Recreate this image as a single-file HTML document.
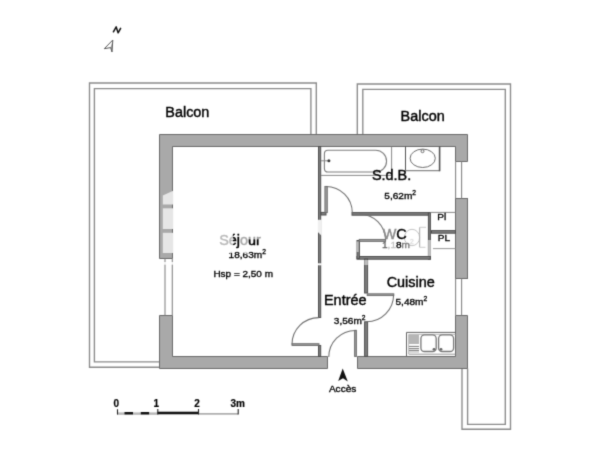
<!DOCTYPE html>
<html><head><meta charset="utf-8">
<style>
html,body{margin:0;padding:0;background:#fff;width:600px;height:450px;overflow:hidden}
svg{display:block;will-change:transform}
text{font-family:"Liberation Sans",sans-serif;fill:#000}
.t14{font-size:14px;stroke:#000;stroke-width:0.4px}
.t10{font-size:9.7px;stroke:#000;stroke-width:0.32px}
.w{fill:#a9a9a9;stroke:#6b6b6b;stroke-width:1}
.ln{fill:none;stroke:#7a7a7a;stroke-width:1}
.ld{fill:none;stroke:#555;stroke-width:1}
.pt{fill:#7e7e7e;stroke:#4f4f4f;stroke-width:1}
.dl rect{fill:#9c9c9c;stroke:#6a6a6a;stroke-width:0.9}
.arc path{fill:none;stroke:#6e6e6e;stroke-width:1.05}
</style></head><body>
<svg width="600" height="450" viewBox="0 0 600 450">
<defs><filter id="bl" x="0" y="0" width="600" height="450" filterUnits="userSpaceOnUse" color-interpolation-filters="sRGB"><feConvolveMatrix order="3" kernelMatrix="0.0192 0.1001 0.0192 0.1001 0.5228 0.1001 0.0192 0.1001 0.0192" edgeMode="duplicate"/></filter></defs>
<g filter="url(#bl)">
<rect x="0" y="0" width="600" height="450" fill="#fff"/>

<!-- left balcony -->
<g fill="none" stroke="#8a8a8a" stroke-width="1.35">
<path d="M159.5 367.2 H89.5 V83 H316.3 V134.5"/>
<path d="M159.5 361.8 H94.4 V88.6 H310.9 V134.5"/>
<!-- right balcony -->
<path d="M357.3 134.5 V84 H510.5 V429.2 H462 V368.5"/>
<path d="M362.8 134.5 V89.4 H505.3 V424.4 H467.6 V368.5"/>
</g>

<!-- outer walls -->
<path class="w" d="M159.5 134.5 H467.5 V161.5 H455.5 V146.5 H172.5 V258.5 H159.5 Z"/>
<path class="w" d="M159.5 315.5 H172.5 V356.5 H327.5 V368.5 H159.5 Z"/>
<path class="w" d="M357.5 356.5 H455.5 V315.5 H467.5 V368.5 H357.5 Z"/>
<rect class="w" x="455.5" y="198.5" width="12" height="80"/>

<!-- windows -->
<g stroke="#858585" stroke-width="1.1" fill="none">
<path d="M165 258.5 V315.5 M172.3 258.5 V315.5"/>
<path d="M455.6 161.5 V198.5 M461.6 161.5 V198.5"/>
<path d="M455.6 278.5 V315.5 M461.6 278.5 V315.5"/>
</g>

<!-- partitions -->
<rect class="pt" x="318.5" y="146.5" width="2.2" height="171"/>
<rect class="pt" x="318.5" y="345.5" width="2.2" height="11"/>
<!-- SdB/WC wall -->
<rect class="pt" x="352" y="212.6" width="78" height="2.6"/>
<rect class="pt" x="321" y="212.4" width="5" height="2.6"/>
<!-- WC right wall -->
<rect class="pt" x="428.4" y="212.6" width="2" height="46.6"/>
<!-- WC bottom wall -->
<rect class="pt" x="357" y="256.5" width="73.4" height="2.7"/>
<!-- WC left stub -->
<rect class="pt" x="357" y="240.5" width="2.4" height="18"/>
<!-- Entree/Cuisine partition -->
<rect class="pt" x="364.6" y="259" width="3" height="34"/>
<rect class="pt" x="364.6" y="321.8" width="3" height="34.5"/>
<!-- Pl / PL -->
<path d="M430.5 212.4 H455.5" stroke="#888" stroke-width="1"/>
<rect class="pt" x="431.5" y="230.6" width="24" height="2.6"/>
<path d="M433 248.6 H455.5" stroke="#999" stroke-width="1"/>

<!-- doors -->
<g class="dl">
<rect x="324.9" y="186.4" width="2.4" height="26.2"/>
<rect x="359.2" y="239.4" width="26.4" height="2"/>
<rect x="292" y="343.7" width="27" height="1.8"/>
<rect x="354.6" y="330.3" width="1.8" height="26.2"/>
<rect x="367.2" y="293.8" width="26.6" height="1.8"/>
</g>
<g class="arc">
<path d="M326 186.4 A26.3 26.3 0 0 1 352.3 212.7"/>
<path d="M385.6 240.4 A26.5 26.5 0 0 0 359.1 213.9"/>
<path d="M292 344.4 A26.8 26.8 0 0 1 318.8 317.6"/>
<path d="M355.4 330.4 A26.6 26.6 0 0 0 328.8 357"/>
<path d="M393.6 294.8 A27 27 0 0 1 366.6 321.8"/>
</g>

<!-- bathtub -->
<path d="M321 175.4 H391.6 V146.5" fill="none" stroke="#888" stroke-width="1"/>
<path d="M328 150.3 H375.7 A10.85 10.85 0 0 1 375.7 172 H328 Q324.4 172 324.4 168.4 V153.9 Q324.4 150.3 328 150.3 Z" fill="none" stroke="#7d7d7d" stroke-width="1.1"/>
<path d="M321 160.8 H328.5" stroke="#888" stroke-width="1"/>
<circle cx="328.9" cy="160.8" r="1.5" fill="#3a3a3a"/>

<!-- sink cabinet SdB -->
<path d="M405.5 146.5 V170.6" stroke="#555" stroke-width="1"/>
<path d="M405.5 170.6 H440" stroke="#888" stroke-width="1.4"/>
<path d="M439.6 146.5 V171.2" stroke="#555" stroke-width="1.6"/>
<ellipse cx="422.7" cy="158.3" rx="12.6" ry="9.2" fill="none" stroke="#6d6d6d" stroke-width="1"/>
<circle cx="422.5" cy="151.2" r="1.5" fill="none" stroke="#6d6d6d" stroke-width="1"/>

<!-- WC toilet (faint) -->
<g fill="none" stroke-width="1">
<ellipse cx="412" cy="237.5" rx="7.6" ry="8.2" stroke="#c4c4c4"/>
<path d="M419.7 227.3 V247.3" stroke="#aaa"/>
<path d="M419.7 227.3 H426 M419.7 247.3 H425.5" stroke="#ccc"/>
</g>
<rect x="428" y="240" width="3" height="16" fill="#fff" opacity="0.55"/>
<rect x="356.6" y="241.5" width="2" height="10.5" fill="#fff" opacity="0.55"/>
<rect x="364.2" y="260" width="3.8" height="5" fill="#fff" opacity="0.5"/>

<!-- kitchen -->
<path d="M406.5 356 V332.4 H455.3" fill="none" stroke="#666" stroke-width="1"/>
<path d="M408.6 354 V334.4 H455.3" fill="none" stroke="#bbb" stroke-width="1"/>
<path d="M408.6 354.2 H455.3" stroke="#999" stroke-width="1"/>
<rect x="409" y="334.5" width="10" height="9.5" fill="#b6b6b6"/>
<path d="M409 346.4 H419 M409 348.6 H419 M409 350.4 H419" stroke="#6a6a6a" stroke-width="0.9"/>
<path d="M409 352 H419" stroke="#aaa" stroke-width="0.9"/>
<rect x="420.9" y="334.9" width="15.3" height="16.6" rx="3.6" fill="#fff" stroke="#777" stroke-width="1.3"/>
<rect x="438.6" y="334.9" width="15" height="16.6" rx="3.6" fill="#fff" stroke="#777" stroke-width="1.3"/>
<circle cx="434" cy="349.3" r="1.4" fill="#666"/>
<circle cx="441" cy="349.3" r="1.4" fill="#666"/>

<!-- watermark-ish -->
<path d="M317.8 219.8 H321.8 V236 L317.8 232 Z" fill="#f0f0f0"/>
<rect x="317.8" y="263.3" width="4" height="2" fill="#fafafa"/>
<rect x="163.5" y="262" width="10" height="2.7" fill="#fff" opacity="0.85"/>
<path d="M162.8 195.6 L173.2 190.8 V204.6 H162.8 Z" fill="#e6e6e6"/>
<rect x="162.8" y="208.3" width="10.4" height="20.7" fill="#e6e6e6"/>
<rect x="162.8" y="232.8" width="10.4" height="20.2" fill="#e6e6e6"/>

<!-- texts -->
<text class="t14" transform="translate(165.3,117.3) scale(1.03,1)">Balcon</text>
<text class="t14" transform="translate(400.6,121.1) scale(1.03,1)">Balcon</text>
<text class="t14" transform="translate(371.9,179.5) scale(1.03,1)">S.d.B.</text>
<text class="t10" transform="translate(384.3,198.7) scale(1.04,1)">5,62m<tspan font-size="6.4" dy="-4">2</tspan></text>
<defs><linearGradient id="gs" gradientUnits="userSpaceOnUse" x1="0" y1="0" x2="41" y2="0">
<stop offset="0" stop-color="#b8b8b8"/><stop offset="0.315" stop-color="#b8b8b8"/><stop offset="0.32" stop-color="#000"/><stop offset="0.49" stop-color="#000"/><stop offset="0.495" stop-color="#a8a8a8"/><stop offset="0.68" stop-color="#a8a8a8"/><stop offset="0.685" stop-color="#000"/><stop offset="1" stop-color="#000"/>
</linearGradient></defs>
<text class="t14" transform="translate(219.2,245.4) scale(1.03,1)" style="fill:url(#gs);stroke:url(#gs)">Séjour</text>
<text class="t10" transform="translate(228.6,257.9) scale(1.04,1)">18,63m<tspan font-size="6.4" dy="-4">2</tspan></text>
<text class="t10" transform="translate(213.4,277.4) scale(1.03,1)">Hsp = 2,50 m</text>
<text class="t14" transform="translate(382.7,238.5) scale(1.03,1)"><tspan fill="#8a8a8a" stroke="#8a8a8a">W</tspan>C</text>
<text class="t10" transform="translate(382.0,247.7) scale(1.04,1)"><tspan fill="#666" stroke="#666">1</tspan><tspan fill="#c4c4c4" stroke="#c4c4c4">,1</tspan>8<tspan fill="#777" stroke="#777">m</tspan><tspan font-size="6.4" dy="-4" fill="#ddd" stroke="#ddd">2</tspan></text>
<text class="t10" transform="translate(437.2,220.4) scale(1.04,1)">Pl</text>
<text class="t10" transform="translate(437.8,241.4) scale(1.04,1)">PL</text>
<text class="t14" transform="translate(386.7,287.0) scale(1.03,1)">Cuisine</text>
<text class="t10" transform="translate(395.5,305.3) scale(1.04,1)">5,48m<tspan font-size="6.4" dy="-4">2</tspan></text>
<text class="t14" transform="translate(324.0,305.0) scale(1.03,1)">Entrée</text>
<text class="t10" transform="translate(333.8,324.2) scale(1.04,1)">3,56m<tspan font-size="6.4" dy="-4">2</tspan></text>
<text class="t10" transform="translate(328.9,392.4) scale(1.04,1)">Accès</text>

<!-- watermark overlays on text -->
<rect x="247.6" y="235.3" width="14" height="4.1" fill="#fff" opacity="0.62"/>
<rect x="243.4" y="249.8" width="5.4" height="3.4" fill="#fff" opacity="0.8"/>
<rect x="228.4" y="249.8" width="4.6" height="3.2" fill="#fff" opacity="0.8"/>

<!-- access arrow -->
<path d="M342.7 368.5 L338.2 381 L343 378.2 L347.8 381.4 Z" fill="#111"/>

<!-- north arrow -->
<path d="M112.8 40 L110.6 47.6 L112 52 Z" fill="#a0a0a0"/>
<path d="M112.8 40 L104.3 48.7 L110.6 47.6 L112 52 Z" fill="none" stroke="#5a5a5a" stroke-width="1" stroke-linejoin="round"/>
<path d="M113.4 31.8 L116.2 26.9 L118.1 32.8 L120.6 28.3" fill="none" stroke="#111" stroke-width="1.5" stroke-linejoin="round" stroke-linecap="round"/>

<!-- scale bar -->
<g>
<rect x="117" y="412" width="40.5" height="2.4" fill="#d4d4d4"/>
<rect x="117" y="413.5" width="40.5" height="1" fill="#9a9a9a"/>
<rect x="124.5" y="412" width="8.5" height="2.4" fill="#111"/>
<rect x="140.8" y="412" width="8.3" height="2.4" fill="#111"/>
<rect x="157.5" y="411.7" width="40.7" height="2.6" fill="#111"/>
<rect x="198" y="413.3" width="40" height="1.2" fill="#8a8a8a"/>
<path d="M117.5 409.2 V414.6 M157.8 409 V414.4 M198.5 409 V414.4 M238.2 409.1 V414.4" stroke="#222" stroke-width="1.1"/>
<g font-size="10" font-weight="bold" style="stroke:#111;stroke-width:0.2px">
<text x="113.4" y="406.7">0</text>
<text x="153.4" y="406.7">1</text>
<text x="194.3" y="406.7">2</text>
<text x="230.5" y="406.7">3m</text>
</g>
</g>
</g>
</svg>
</body></html>
